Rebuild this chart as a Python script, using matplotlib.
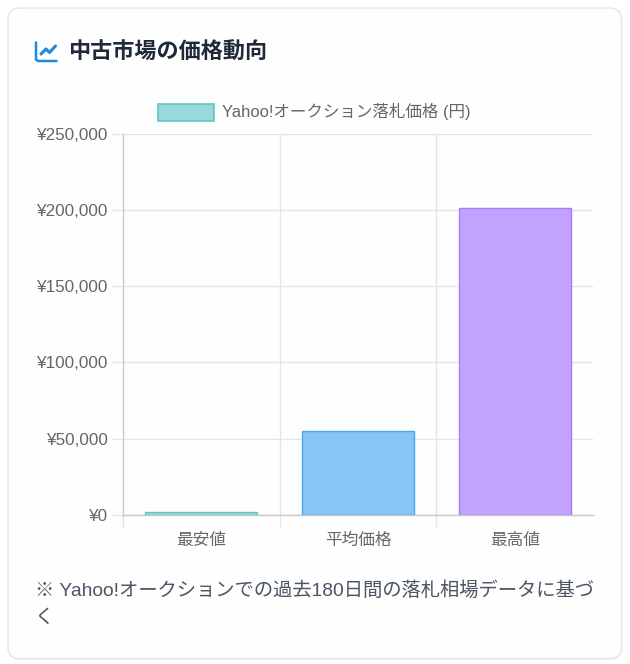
import matplotlib
matplotlib.use('Agg')
import matplotlib.pyplot as plt
from matplotlib.patches import FancyBboxPatch, Rectangle

# Daten
kategorien = ['最安値', '平均価格', '最高値']
preise = [2000, 55000, 201000]
y_ticks = [0, 50000, 100000, 150000, 200000, 250000]
titel = '中古市場の価格動向'
legende = 'Yahoo!オークション落札価格 (円)'
hinweis = ['※ Yahoo!オークションでの過去180日間の落札相場データに基づ', 'く']

fill_farben = ['#99d9d9', '#86c5f5', '#c1a3ff']
rand_farben = ['#5cc6c6', '#4aa9ee', '#a57eff']

plt.rcParams['font.family'] = ['Liberation Sans', 'Noto Sans CJK JP', 'DejaVu Sans']

W, H = 630, 664
fig = plt.figure(figsize=(W / 100, H / 100), dpi=100, facecolor='white')

# Hintergrund in Pixelkoordinaten
bg = fig.add_axes([0, 0, 1, 1])
bg.set_xlim(0, W)
bg.set_ylim(H, 0)
bg.axis('off')

for i, c in enumerate(['#f6f6f6', '#efefef']):
    bg.add_patch(FancyBboxPatch((8 - 1 + i, 8 + 1 + i), 614 + 2 - 2 * i, 651 - i,
                                boxstyle='round,pad=0,rounding_size=13',
                                fc=c, ec='none'))
bg.add_patch(FancyBboxPatch((8, 8), 613.5, 650.5,
                            boxstyle='round,pad=0,rounding_size=12',
                            fc='#fefefe', ec='#e5e7eb', lw=1))

# Icon
blau = '#1e88e5'
bg.plot([36, 36, 38, 56.5], [42.5, 59.5, 61, 61], color=blau, lw=1.8, solid_capstyle='round', solid_joinstyle='round')
bg.plot([41, 46, 49.5, 55.5], [54, 49, 52.5, 46], color=blau, lw=2.2, solid_capstyle='round', solid_joinstyle='round')

# Baseline statt Mitte, sonst rutscht der Titel wegen der Schriftmetrik
bg.text(68, 58.5, titel, fontsize=15.9, fontweight='bold', color='#1f2937', va='baseline', ha='left')

# Legende
bg.add_patch(Rectangle((158, 103.5), 55.5, 17, fc=fill_farben[0], ec=rand_farben[0], lw=1.2))
bg.text(222, 111, legende, fontsize=11.9, color='#666666', va='center', ha='left')

# Hinweis
bg.text(35, 596, hinweis[0], fontsize=13.9, color='#4b5563', va='baseline', ha='left')
bg.text(35, 623, hinweis[1], fontsize=13.9, color='#4b5563', va='baseline', ha='left')

# Diagramm
x0, x1 = 123, 593
y_top, y_bot = 133.5, 515
ax = fig.add_axes([x0 / W, 1 - y_bot / H, (x1 - x0) / W, (y_bot - y_top) / H])
ax.patch.set_alpha(0)
ax.set_xlim(-0.5, 2.5)
ax.set_ylim(0, 250000)

ax.bar(range(3), preise, width=0.715, color=fill_farben, edgecolor=rand_farben, linewidth=1, zorder=3)

ax.set_yticks(y_ticks)
ax.set_yticklabels([f'¥{v:,}' for v in y_ticks])
ax.set_xticks(range(3))
ax.set_xticklabels(kategorien)
ax.tick_params(axis='y', length=8, width=1, color='#e5e5e5', labelcolor='#666666', labelsize=12.3, pad=2.5)
ax.tick_params(axis='x', length=0, labelcolor='#666666', labelsize=12, pad=13)

ax.grid(axis='y', color='#e5e5e5', lw=1, zorder=0)
for x in [0.5, 1.5]:
    ax.axvline(x, color='#e5e5e5', lw=1, zorder=0)
    ax.plot([x, x], [0, -0.029], transform=ax.get_xaxis_transform(), color='#e5e5e5', lw=1, clip_on=False)
ax.plot([-0.5, -0.5], [0, -0.029], transform=ax.get_xaxis_transform(), color='#e0e0e0', lw=1, clip_on=False)

for s in ['top', 'right']:
    ax.spines[s].set_visible(False)
for s in ['left', 'bottom']:
    ax.spines[s].set_color('#c9c9c9')
    ax.spines[s].set_linewidth(1)

fig.savefig('out.png', dpi=100)
